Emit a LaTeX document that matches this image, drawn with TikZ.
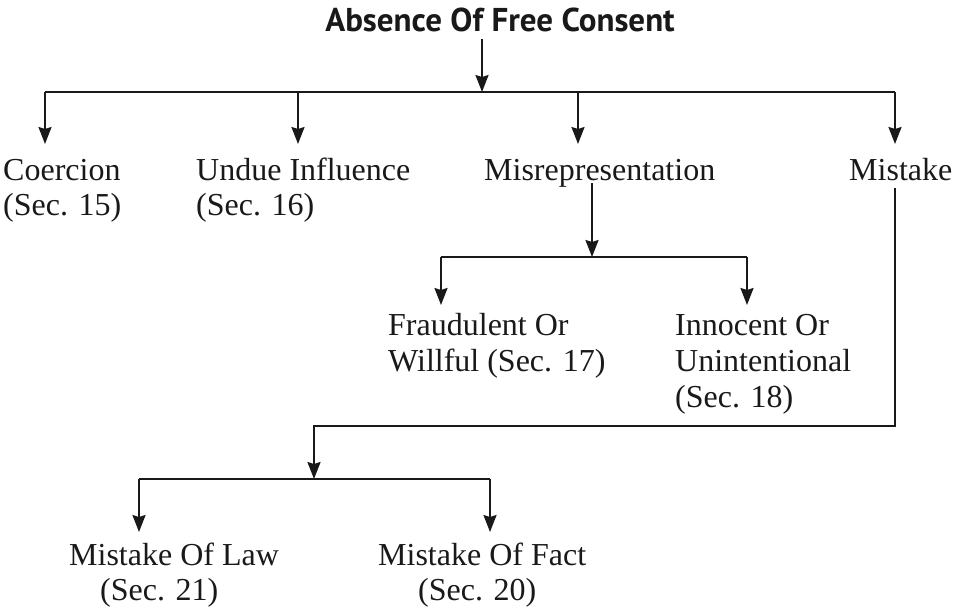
\documentclass[tikz,border=0pt]{standalone}
\usepackage{fontspec}
\setmainfont{Liberation Serif}
\newfontfamily\titlefam{PT Sans}
\usetikzlibrary{arrows.meta}
\begin{document}
\begin{tikzpicture}[x=1pt,y=-1pt,
  conn/.style={line width=2.2pt, draw=black!90},
  arr/.style={conn, -{Stealth[length=17pt,width=13pt,inset=2pt]}},
  lbl/.style={anchor=base west, inner sep=0pt, font=\fontsize{32}{35}\selectfont, text=black!90},
  ttl/.style={anchor=base, inner sep=0pt, font=\titlefam\bfseries\fontsize{33}{36}\selectfont, text=black!90}]
\useasboundingbox (0,0) rectangle (953,611);
% title
\node[ttl] (title) at (500,31) {Absence Of Free Consent};
% first level labels
\node[lbl] (coer) at (3,180) {Coercion};
\node[lbl] (coer2) at (3,215) {(Sec. 15)};
\node[lbl] (undue) at (196,180) {Undue Influence};
\node[lbl] (undue2) at (196,215) {(Sec. 16)};
\node[lbl] (misrep) at (484,180) {Misrepresentation};
\node[lbl] (mist) at (849,180) {Mistake};
% second level labels
\node[lbl] (fraud) at (388,335) {Fraudulent Or};
\node[lbl] (fraud2) at (388,371) {Willful (Sec. 17)};
\node[lbl] (innoc) at (675,335) {Innocent Or};
\node[lbl] (innoc2) at (675,371) {Unintentional};
\node[lbl] (innoc3) at (675,407) {(Sec. 18)};
% third level labels
\node[lbl] (law) at (69,565) {Mistake Of Law};
\node[lbl] (law2) at (100,600) {(Sec. 21)};
\node[lbl] (fact) at (378,565) {Mistake Of Fact};
\node[lbl] (fact2) at (418,600) {(Sec. 20)};
% coordinates
\coordinate (t0) at (482,39);
\coordinate (t1) at (482,92);
\coordinate (b1) at (45,92);
\coordinate (b2) at (298,92);
\coordinate (b3) at (578,92);
\coordinate (b4) at (895,92);
\coordinate (e1) at (45,144);
\coordinate (e2) at (298,144);
\coordinate (e3) at (578,144);
\coordinate (e4) at (895,144);
\coordinate (m0) at (592,183);
\coordinate (m1) at (592,257);
\coordinate (s1) at (441,257);
\coordinate (s2) at (747,257);
\coordinate (f1) at (441,305);
\coordinate (f2) at (747,305);
\coordinate (k0) at (895,188);
\coordinate (k1) at (895,426);
\coordinate (k2) at (314,426);
\coordinate (k3) at (314,479);
\coordinate (l1) at (139,479);
\coordinate (l2) at (490,479);
\coordinate (g1) at (139,532);
\coordinate (g2) at (490,532);
% connectors
\draw[arr] (t0) -- (t1);
\draw[conn] (b1) -- (b4);
\draw[arr] (b1) -- (e1);
\draw[arr] (b2) -- (e2);
\draw[arr] (b3) -- (e3);
\draw[arr] (b4) -- (e4);
\draw[arr] (m0) -- (m1);
\draw[conn] (s1) -- (s2);
\draw[arr] (s1) -- (f1);
\draw[arr] (s2) -- (f2);
\draw[arr] (k0) -- (k1) -- (k2) -- (k3);
\draw[conn] (l1) -- (l2);
\draw[arr] (l1) -- (g1);
\draw[arr] (l2) -- (g2);
\end{tikzpicture}
\end{document}
